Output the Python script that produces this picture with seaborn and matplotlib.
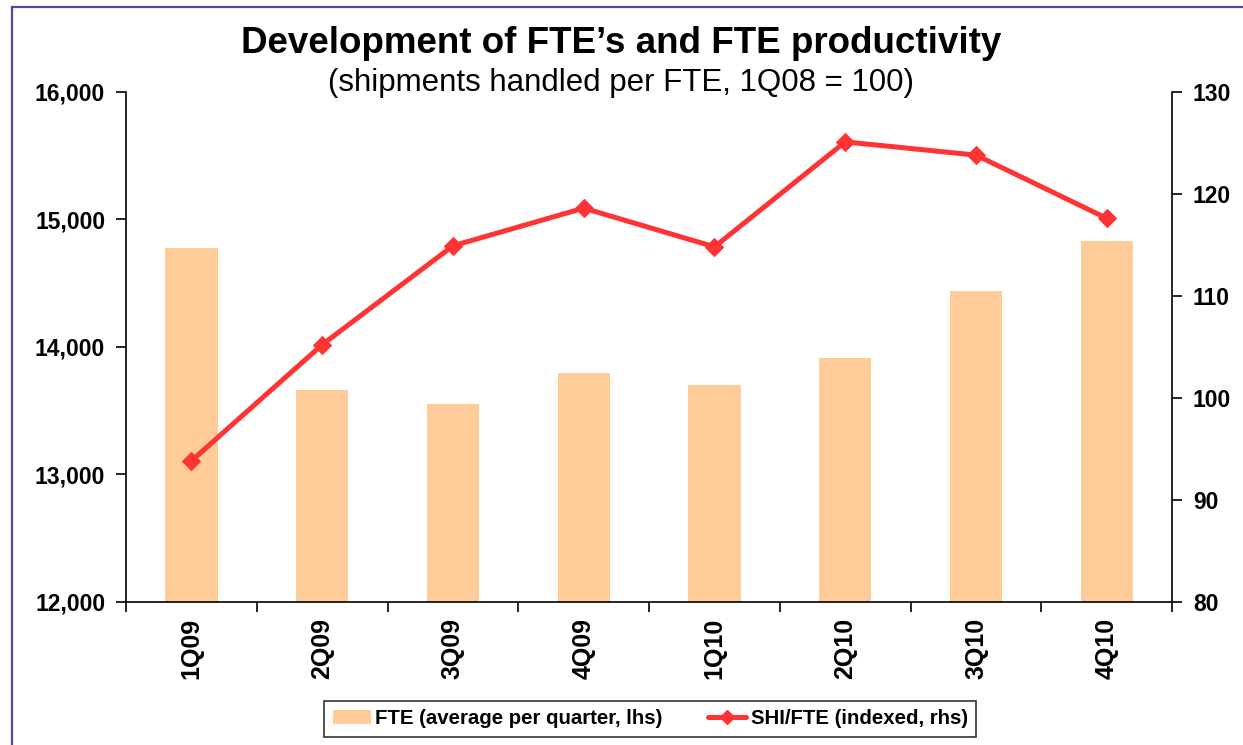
# FTE development vs FTE productivity
import numpy as np
import pandas as pd
import seaborn as sns
import matplotlib
matplotlib.use('Agg')
import matplotlib.pyplot as plt
from matplotlib.patches import Patch, Rectangle
from matplotlib.lines import Line2D
from matplotlib.ticker import FuncFormatter, FixedLocator

# DATA
quarters = ['1Q09', '2Q09', '3Q09', '4Q09', '1Q10', '2Q10', '3Q10', '4Q10']
fte = [14772, 13658, 13548, 13791, 13699, 13909, 14437, 14832]
shi_per_fte = [93.8, 105.2, 114.9, 118.6, 114.8, 125.1, 123.8, 117.6]

df = pd.DataFrame({'quarter': quarters, 'fte': fte, 'shi': shi_per_fte})

BAR_COLOR = '#FFCB98'
LINE_COLOR = '#FF3333'

sns.set_theme(style='white')
plt.rcParams['font.family'] = ['Liberation Sans', 'DejaVu Sans']
plt.rcParams['text.color'] = 'black'
plt.rcParams['xtick.color'] = 'black'
plt.rcParams['ytick.color'] = 'black'
plt.rcParams['axes.labelcolor'] = 'black'

fig = plt.figure(figsize=(12.43, 7.45), dpi=100)
ax = fig.add_axes([0.1014, 0.1926, 0.8416, 0.684])

# BARS (LEFT AXIS)
sns.barplot(data=df, x='quarter', y='fte', color=BAR_COLOR, width=0.4,
            saturation=1, edgecolor='none', ax=ax)
ax.set_ylim(12000, 16000)
ax.set_xlim(-0.5, len(quarters) - 0.5)
ax.set_yticks([12000, 13000, 14000, 15000, 16000])
ax.yaxis.set_major_formatter(FuncFormatter(lambda v, p: f'{int(v):,}'))
ax.set_xlabel('')
ax.set_ylabel('')

# LINE (RIGHT AXIS)
ax2 = ax.twinx()
sns.lineplot(x=np.arange(len(quarters)), y=df['shi'], ax=ax2, color=LINE_COLOR,
             linewidth=3.6, marker='D', markersize=9, markeredgecolor=LINE_COLOR,
             legend=False)
ax2.set_ylim(80, 130)
ax2.set_yticks([80, 90, 100, 110, 120, 130])
ax2.set_ylabel('')

# SPINES AND TICKS
for a in (ax, ax2):
    for s in a.spines.values():
        s.set_color('black')
        s.set_linewidth(1.2)
    a.spines['top'].set_visible(False)
    a.grid(False)
ax.spines['right'].set_visible(False)
ax2.spines['left'].set_visible(False)
ax2.spines['bottom'].set_visible(False)

ax.tick_params(axis='y', which='major', direction='out', length=7, width=1.2,
               color='black', left=True, labelsize=16.5, pad=8)
ax2.tick_params(axis='y', which='major', direction='out', length=7, width=1.2,
                color='black', right=True, labelsize=16.5, pad=8)
ax.xaxis.set_minor_locator(FixedLocator(np.arange(len(quarters) + 1) - 0.5))
ax.tick_params(axis='x', which='minor', direction='out', length=7, width=1.2,
               color='black', bottom=True)
ax.tick_params(axis='x', which='major', length=0, labelsize=18, pad=12)
for lbl in ax.get_xticklabels():
    lbl.set_rotation(90)
    lbl.set_fontweight('bold')
for lbl in ax.get_yticklabels() + ax2.get_yticklabels():
    lbl.set_fontweight('bold')

# TITLES
fig.text(0.5, 0.941, 'Development of FTE\u2019s and FTE productivity',
         ha='center', va='center', fontsize=26.5, fontweight='bold')
fig.text(0.5, 0.888, '(shipments handled per FTE, 1Q08 = 100)',
         ha='center', va='center', fontsize=22.5)

# LEGEND
handles = [
    Patch(facecolor=BAR_COLOR, edgecolor='none'),
    Line2D([0], [0], color=LINE_COLOR, linewidth=3.6, marker='D', markersize=7),
]
leg = fig.legend(handles, ['FTE (average per quarter, lhs)', 'SHI/FTE (indexed, rhs)'],
                 loc='center', bbox_to_anchor=(0.523, 0.035), ncol=2,
                 frameon=True, fancybox=False, edgecolor='black',
                 prop={'weight': 'bold', 'size': 14.7}, handlelength=1.9,
                 handletextpad=0.2, columnspacing=2.2, borderpad=0.4,
                 borderaxespad=0.0)
leg.get_frame().set_linewidth(1.2)

# OUTER BLUE FRAME
fig.patches.append(Rectangle((12 / 1243, -0.05), 1.2, 1 - 7 / 745 + 0.05,
                             transform=fig.transFigure, fill=False,
                             edgecolor='#4B4B9B', linewidth=1.6))

fig.savefig('out.png', dpi=100)
